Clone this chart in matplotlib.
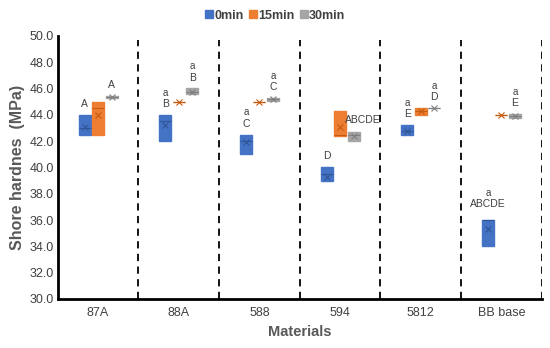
"""Shore hardness of the resin materials after 0, 15 and 30 min (box plot)."""

import matplotlib

matplotlib.use("Agg")
import matplotlib.pyplot as plt
from matplotlib.lines import Line2D

plt.rcParams["font.family"] = ["Liberation Sans", "DejaVu Sans"]

MATERIALS = ["87A", "88A", "588", "594", "5812", "BB base"]
SERIES = ["0min", "15min", "30min"]
COLORS = ["#4472C4", "#ED7D31", "#A5A5A5"]
EDGES = ["#2F5597", "#C55A11", "#7F7F7F"]

# box lower / upper quartiles, medians and means per series (MPa)
Q1 = [
    [42.5, 42.0, 41.0, 39.0, 42.5, 34.0],
    [42.5, 45.0, 45.0, 42.4, 44.0, 44.0],
    [45.25, 45.6, 45.05, 42.0, 44.5, 43.75],
]
Q3 = [
    [44.0, 44.0, 42.5, 40.0, 43.2, 36.0],
    [45.0, 45.0, 45.0, 44.3, 44.55, 44.0],
    [45.45, 46.0, 45.3, 42.7, 44.5, 44.05],
]
MED = [
    [43.0, 43.5, 42.0, 39.5, 42.8, 36.0],
    [44.5, 45.0, 45.0, 42.5, 44.3, 44.0],
    [45.35, 45.7, 45.2, 42.5, 44.5, 43.9],
]
MEAN = [
    [43.1, 43.2, 41.9, 39.3, 42.8, 35.3],
    [44.0, 45.0, 45.0, 43.1, 44.3, 44.0],
    [45.35, 45.7, 45.2, 42.4, 44.5, 43.9],
]

# significance letters: (material, series, upper letter, lower letter)
LETTERS = [
    (0, 0, "A", ""), (0, 2, "A", ""),
    (1, 0, "B", "a"), (1, 2, "B", "a"),
    (2, 0, "C", "a"), (2, 2, "C", "a"),
    (3, 0, "D", ""),
    (4, 0, "E", "a"), (4, 2, "D", "a"),
    (5, 0, "ABCDE", "a"), (5, 2, "E", "a"),
]

OFFSET = 0.167
WIDTH = 0.15

fig = plt.figure(figsize=(5.5, 3.48), dpi=100)
ax = fig.add_axes([0.105, 0.141, 0.88, 0.756])

for s in range(len(SERIES)):
    stats = []
    for m in range(len(MATERIALS)):
        stats.append({
            "q1": Q1[s][m], "q3": Q3[s][m], "med": MED[s][m],
            "mean": MEAN[s][m], "whislo": Q1[s][m], "whishi": Q3[s][m],
            "fliers": [],
        })
    pos = [m + (s - 1) * OFFSET for m in range(len(MATERIALS))]
    ax.bxp(
        stats, positions=pos, widths=WIDTH, patch_artist=True,
        showmeans=True, showcaps=False,
        boxprops=dict(facecolor=COLORS[s], edgecolor=COLORS[s], linewidth=1),
        medianprops=dict(color=EDGES[s], linewidth=0.8),
        whiskerprops=dict(color=COLORS[s], linewidth=1),
        meanprops=dict(marker="x", markeredgecolor=EDGES[s], markersize=5,
                       markeredgewidth=0.8),
        manage_ticks=False,
    )

for m, s, upper, lower in LETTERS:
    x = m + (s - 1) * OFFSET
    top = Q3[s][m]
    if m == 5 and s == 0:
        top += 0.4
    ax.text(x, top + 0.45, upper, ha="center", va="bottom", fontsize=7.5,
            color="#404040")
    if lower:
        ax.text(x, top + 1.3, lower, ha="center", va="bottom", fontsize=7,
                color="#404040")
# 594 / 30min letters sit to the right of the box
ax.text(3 + OFFSET + 0.12, Q3[2][3] + 0.5, "ABCDE", ha="center", va="bottom",
        fontsize=7.5, color="#404040")

for b in range(len(MATERIALS)):
    ax.axvline(b + 0.5, color="black", linestyle=(0, (4, 3)), linewidth=1.3,
               ymax=0.985)

ax.set_xlim(-0.5, len(MATERIALS) - 0.5)
ax.set_ylim(30, 50)
ax.set_yticks([30 + 2 * i for i in range(11)])
ax.set_yticklabels([f"{30 + 2 * i:.1f}" for i in range(11)])
ax.set_xticks(range(len(MATERIALS)))
ax.set_xticklabels(MATERIALS)
ax.tick_params(axis="both", length=0, labelsize=9, labelcolor="#404040")
ax.tick_params(axis="x", pad=6)
ax.tick_params(axis="y", pad=3)
for side in ("top", "right"):
    ax.spines[side].set_visible(False)
for side in ("left", "bottom"):
    ax.spines[side].set_linewidth(2)

ax.set_ylabel("Shore hardnes  (MPa)", fontsize=11.5, fontweight="bold",
              color="#595959", labelpad=3)
ax.set_xlabel("Materials", fontsize=10.5, fontweight="bold", color="#595959",
              labelpad=4)

handles = [Line2D([], [], marker="s", linestyle="", markersize=6,
                  markerfacecolor=c, markeredgecolor=c) for c in COLORS]
leg = fig.legend(handles, SERIES, loc="center", bbox_to_anchor=(0.5, 0.955),
                 ncol=3, frameon=False, handletextpad=0.05, columnspacing=0.4,
                 prop=dict(size=9, weight="bold"), handlelength=0.7)
for t in leg.get_texts():
    t.set_color("#404040")

fig.savefig("out.png", dpi=100)
plt.close(fig)
